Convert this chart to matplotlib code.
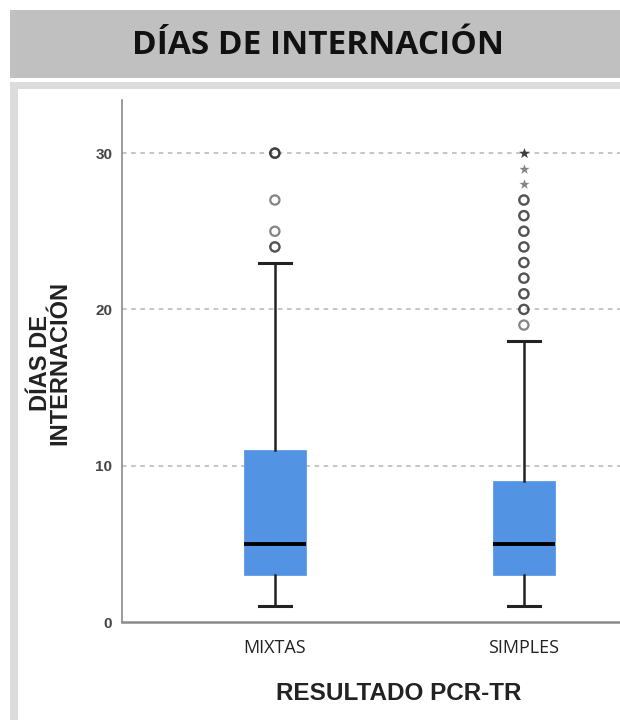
import matplotlib
matplotlib.use('Agg')
import matplotlib.pyplot as plt
from matplotlib.patches import Rectangle

# resumen de cada grupo (días de internación)
grupos       = ['MIXTAS', 'SIMPLES']
minimos      = [1, 1]
q1           = [3, 3]
medianas     = [5, 5]
q3           = [11, 9]
maximos      = [23, 18]
# valores atípicos (círculos) y extremos (asteriscos); repetidos = superpuestos
atipicos_mixtas  = [24, 24, 25, 27, 30, 30, 30]
atipicos_simples = [19, 20, 20, 21, 21, 22, 22, 23, 23, 24, 24, 25, 25, 26, 26, 27, 27]
extremos_mixtas  = []
extremos_simples = [28, 29, 30, 30, 30]
yticks = [0, 10, 20, 30]

AZUL = '#5393e3'
GRIS_TXT = '#454545'

fig = plt.figure(figsize=(6.2, 7.2), dpi=100)
fig.patch.set_facecolor('white')

# encabezado gris y marco (detrás de los ejes)
def fondo(x, y, w, h, color):
    fig.patches.append(Rectangle((x / 620, 1 - (y + h) / 720), w / 620, h / 720,
                                 transform=fig.transFigure, facecolor=color,
                                 edgecolor='none', zorder=-10))

fondo(10, 10, 610, 68, '#c0c0c0')
fondo(10, 82, 610, 638, '#dcdcdc')
fondo(18, 89, 602, 631, 'white')
fig.text(318 / 620, 1 - 46 / 720, 'DÍAS DE INTERNACIÓN', ha='center', va='center',
         fontsize=24, fontweight='bold', family='Open Sans', color='#111111')

ax = fig.add_axes([122 / 620, 1 - 622 / 720, 498 / 620, 522 / 720])
ax.set_facecolor('none')

stats = []
for i, g in enumerate(grupos):
    stats.append(dict(label=g, whislo=minimos[i], q1=q1[i], med=medianas[i],
                      q3=q3[i], whishi=maximos[i], fliers=[]))
pos = [1, 2]
ax.bxp(stats, positions=pos, widths=0.25, patch_artist=True, showfliers=False,
       boxprops=dict(facecolor=AZUL, edgecolor=AZUL, linewidth=0.5),
       medianprops=dict(color='black', linewidth=2.8),
       whiskerprops=dict(color='#222222', linewidth=1.8),
       capprops=dict(color='#222222', linewidth=2.2),
       capwidths=0.13, zorder=3)

for p, vals in zip(pos, [atipicos_mixtas, atipicos_simples]):
    ax.scatter([p] * len(vals), vals, s=44, facecolor='none',
               edgecolor='#333333', linewidth=1.6, alpha=0.6, zorder=4)
for p, vals in zip(pos, [extremos_mixtas, extremos_simples]):
    if vals:
        ax.scatter([p] * len(vals), vals, s=60, marker='*', color='#333333',
                   linewidth=0, alpha=0.6, zorder=4)

ax.set_xlim(0.386, 2.386)
ax.set_ylim(0, 33.4)
ax.set_yticks(yticks)
ax.set_yticklabels([str(v) for v in yticks], fontsize=11, fontweight='bold',
                   color=GRIS_TXT, family='Liberation Sans')
ax.set_xticks(pos)
ax.set_xticklabels(grupos, fontsize=13, color='#222222', family='Open Sans')
ax.tick_params(axis='y', length=0, pad=7)
ax.tick_params(axis='x', length=0, pad=12)

for v in yticks[1:]:
    ax.axhline(v, color='#b5b5b5', linestyle=(0, (3, 3)), linewidth=1.1, zorder=1)

for s in ['top', 'right']:
    ax.spines[s].set_visible(False)
ax.spines['left'].set_color('#8a8a8a')
ax.spines['left'].set_linewidth(1.2)
ax.spines['bottom'].set_color('#8a8a8a')
ax.spines['bottom'].set_linewidth(1.8)

# títulos de los ejes
fig.text(50 / 620, 1 - 363 / 720, 'DÍAS DE\nINTERNACIÓN', rotation=90,
         ha='center', va='center', fontsize=17, fontweight='bold',
         family='Liberation Sans', color='#222222', linespacing=0.8)
fig.text(399 / 620, 1 - 694 / 720, 'RESULTADO PCR-TR', ha='center', va='center',
         fontsize=17.5, fontweight='bold', family='Liberation Sans', color='#222222')

fig.savefig('out.png', dpi=100)
